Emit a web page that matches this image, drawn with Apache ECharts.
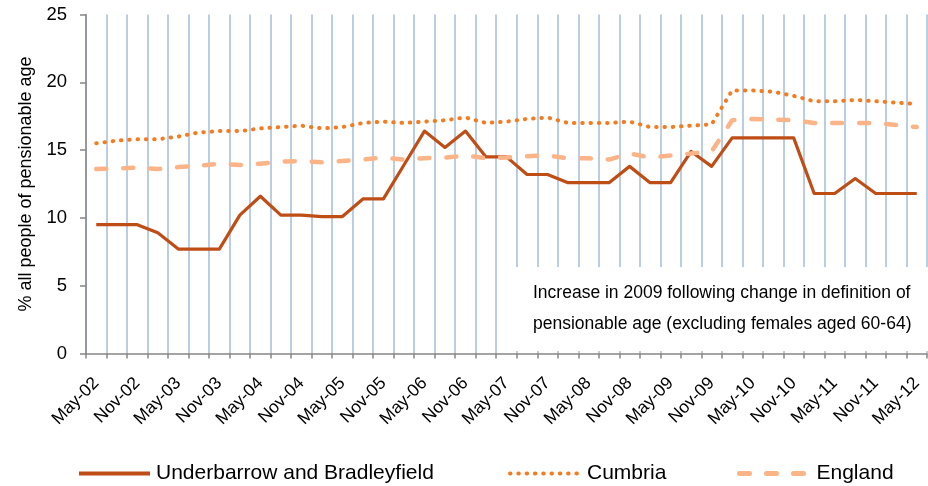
<!DOCTYPE html>
<html>
<head>
<meta charset="utf-8">
<title>Pensionable age</title>
<script src="https://cdn.jsdelivr.net/npm/echarts@6/dist/echarts.min.js"></script>
<style>
  html, body { margin: 0; padding: 0; background: #fff; }
  #chart { width: 928px; height: 486px; }
</style>
</head>
<body>
<div id="chart"></div>
<script>
// quarterly categories, May-02 .. May-12
var categories = [
  'May-02', 'Aug-02', 'Nov-02', 'Feb-03', 'May-03', 'Aug-03', 'Nov-03', 'Feb-04',
  'May-04', 'Aug-04', 'Nov-04', 'Feb-05', 'May-05', 'Aug-05', 'Nov-05', 'Feb-06',
  'May-06', 'Aug-06', 'Nov-06', 'Feb-07', 'May-07', 'Aug-07', 'Nov-07', 'Feb-08',
  'May-08', 'Aug-08', 'Nov-08', 'Feb-09', 'May-09', 'Aug-09', 'Nov-09', 'Feb-10',
  'May-10', 'Aug-10', 'Nov-10', 'Feb-11', 'May-11', 'Aug-11', 'Nov-11', 'Feb-12',
  'May-12'
]

var underbarrow = [
  9.5, 9.5, 9.5, 8.9, 7.7, 7.7, 7.7, 10.2, 11.6, 10.2,
  10.2, 10.1, 10.1, 11.4, 11.4, 13.9, 16.4, 15.2, 16.4, 14.5,
  14.5, 13.2, 13.2, 12.6, 12.6, 12.6, 13.8, 12.6, 12.6, 14.9,
  13.8, 15.9, 15.9, 15.9, 15.9, 11.8, 11.8, 12.9, 11.8, 11.8,
  11.8
]

var cumbria = [
  15.5, 15.7, 15.8, 15.8, 16.0, 16.3, 16.4, 16.4, 16.6, 16.7,
  16.8, 16.6, 16.7, 17.0, 17.1, 17.0, 17.1, 17.2, 17.4, 17.0,
  17.1, 17.3, 17.4, 17.0, 17.0, 17.0, 17.1, 16.7, 16.7, 16.8,
  16.9, 19.4, 19.4, 19.3, 19.0, 18.6, 18.6, 18.7, 18.6, 18.5,
  18.4
]

var england = [
  13.6, 13.65, 13.7, 13.6, 13.75, 13.85, 14.0, 13.9, 14.0, 14.15,
  14.2, 14.1, 14.2, 14.3, 14.45, 14.3, 14.4, 14.45, 14.6, 14.4,
  14.45, 14.55, 14.6, 14.4, 14.4, 14.3, 14.75, 14.45, 14.6, 14.75,
  14.9, 17.2, 17.3, 17.25, 17.2, 17.0, 17.0, 17.0, 17.0, 16.85,
  16.7
]

var seriesNames = ['Underbarrow and Bradleyfield', 'Cumbria', 'England']
var noteLines = [
  'Increase in 2009 following change in definition of',
  'pensionable age (excluding females aged 60-64)'
]

var font = 'Arial, "Liberation Sans", sans-serif'
var axisGrey = '#878787'

var chart = echarts.init(document.getElementById('chart'))

// one legend per series so each item sits where the original has it
function legendAt(left, name, lineWidth) {
  return {
    left: left,
    top: 463,
    padding: 0,
    itemWidth: 71,
    itemHeight: 20,
    data: [name],
    itemStyle: { color: 'rgba(0,0,0,0)', borderWidth: 0, opacity: 0 },
    lineStyle: { width: lineWidth },
    textStyle: { fontFamily: font, fontSize: 21, color: '#000', padding: [0, 0, 0, 1] }
  }
}

chart.setOption({
  animation: false,
  grid: {
    left: 86,
    width: 841,
    top: 14.5,
    height: 339
  },
  legend: [
    legendAt(77, seriesNames[0], 4),
    legendAt(508, seriesNames[1], 4),
    legendAt(737, seriesNames[2], 5)
  ],
  xAxis: {
    type: 'category',
    data: categories,
    boundaryGap: true,
    axisLine: { lineStyle: { color: axisGrey, width: 1.5 } },
    axisTick: { show: true, interval: 0, length: 5, lineStyle: { color: axisGrey, width: 1.5 } },
    splitLine: { show: true, interval: 0, lineStyle: { color: '#B9CDE5', width: 2 } },
    axisLabel: {
      interval: 1,
      rotate: 45,
      margin: 27,
      fontFamily: font,
      fontSize: 17.5,
      color: '#000'
    }
  },
  yAxis: {
    type: 'value',
    min: 0,
    max: 25,
    interval: 5,
    name: '% all people of pensionable age',
    nameLocation: 'middle',
    nameGap: 49,
    nameTextStyle: { fontFamily: font, fontSize: 18, color: '#000' },
    axisLine: { show: true, lineStyle: { color: axisGrey, width: 1.5 } },
    axisTick: { show: true, length: 6, lineStyle: { color: axisGrey, width: 1.5 } },
    splitLine: { show: false },
    axisLabel: { fontFamily: font, fontSize: 18.5, color: '#000', margin: 19 }
  },
  graphic: [
    {
      type: 'rect',
      z: 1,
      shape: { x: 512, y: 267, width: 416, height: 84 },
      style: { fill: '#fff' }
    },
    {
      type: 'text',
      z: 3,
      x: 533,
      y: 293,
      style: { text: noteLines[0], font: '17.5px ' + font, fill: '#000', textVerticalAlign: 'middle' }
    },
    {
      type: 'text',
      z: 3,
      x: 533,
      y: 324,
      style: { text: noteLines[1], font: '17.5px ' + font, fill: '#000', textVerticalAlign: 'middle' }
    }
  ],
  series: [
    {
      name: seriesNames[0],
      type: 'line',
      data: underbarrow,
      symbol: 'none',
      z: 4,
      lineStyle: { color: '#BE4D16', width: 3.2, join: 'round' },
      itemStyle: { color: '#BE4D16' }
    },
    {
      name: seriesNames[1],
      type: 'line',
      data: cumbria,
      symbol: 'none',
      z: 5,
      lineStyle: { color: '#F47B20', width: 4, type: [0.5, 7.8], cap: 'round' },
      itemStyle: { color: '#F47B20' }
    },
    {
      name: seriesNames[2],
      type: 'line',
      data: england,
      symbol: 'none',
      z: 6,
      lineStyle: { color: '#FAB487', width: 4.5, type: [10, 17], cap: 'round' },
      itemStyle: { color: '#FAB487' }
    }
  ]
})
</script>
</body>
</html>
